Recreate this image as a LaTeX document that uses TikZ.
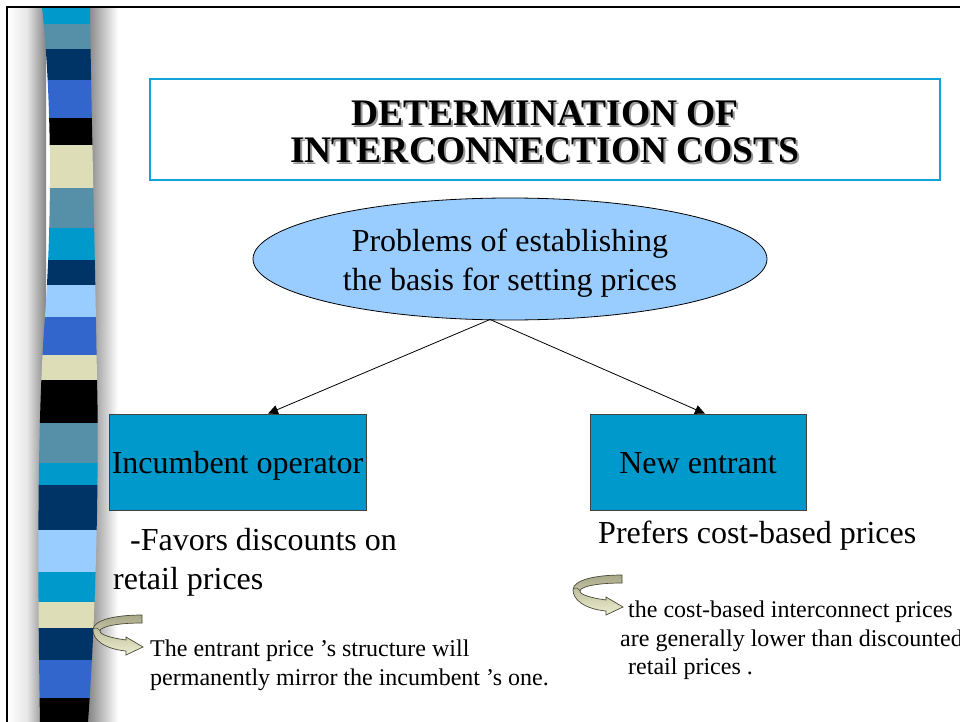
\documentclass[tikz,border=0pt]{standalone}
\usepackage{fontspec}
\setmainfont{Liberation Serif}
\usetikzlibrary{shapes.geometric,arrows.meta,calc}
\definecolor{cyanA}{HTML}{0099CC}
\definecolor{tealA}{HTML}{5590A8}
\definecolor{navyA}{HTML}{003366}
\definecolor{blueA}{HTML}{3366CC}
\definecolor{beigeA}{HTML}{DDDDB8}
\definecolor{lightA}{HTML}{99CCFF}
\definecolor{frameC}{HTML}{10A4D8}
\definecolor{shadeG}{HTML}{858585}
\definecolor{curlTop}{HTML}{A8A888}
\definecolor{curlBot}{HTML}{EEEED0}
\definecolor{curlLine}{HTML}{4A4A38}
\begin{document}
\begin{tikzpicture}[x=1pt,y=-1pt,
  box/.style={draw=black!75,line width=0.8pt,fill=cyanA,minimum width=257pt,minimum height=96pt,inner sep=0pt,text height=22pt,text depth=0pt,font=\fontsize{32}{38}\selectfont},
  bigtxt/.style={inner sep=0pt,font=\fontsize{32}{39}\selectfont,align=left},
  smalltxt/.style={inner sep=0pt,font=\fontsize{24}{28.5}\selectfont,align=left},
  titletxt/.style={inner sep=0pt,align=center,font=\bfseries\fontsize{37.5}{37}\selectfont},
  conn/.style={line width=0.8pt,-{Triangle[length=10pt,width=9pt]}},
  curlarrow/.pic={
    \shade[top color=curlTop,bottom color=curlBot,draw=curlLine,line width=0.7pt]
      (-1,-32) -- (-1,-24) .. controls (-28,-24) and (-43,-20) .. (-43,-16)
      .. controls (-43,-12) and (-31,-9) .. (-17,-7) -- (-17,-10) -- (0,0) -- (-17,8) -- (-17,4)
      .. controls (-38,2) and (-50,-7) .. (-50,-17)
      .. controls (-50,-27) and (-28,-32) .. (-1,-32) -- cycle;
    \draw[curlLine,line width=0.5pt] (-43,-16) .. controls (-45,-19) and (-47,-20) .. (-50,-18);
  }]
\useasboundingbox (0,0) rectangle (960,722);
\fill[white] (0,0) rectangle (960,722);
% left decorative bar
\shade[left color=white,right color=shadeG,middle color=white!80!shadeG] (8,7) rectangle (46,722);
\shade[left color=shadeG,right color=white] (88,7) rectangle (118,722);
\begin{scope}
\clip (42,7) .. controls (50,80) and (54,200) .. (44,330) .. controls (38,420) and (37,550) .. (40,722)
   -- (88,722) .. controls (97,600) and (99,450) .. (97,380) .. controls (95,250) and (91,100) .. (90,7) -- cycle;
\foreach \a/\b/\c in {7/24/cyanA,24/49/tealA,49/80/navyA,80/118/blueA,118/145/black,145/188/beigeA,
  188/228/tealA,228/260/cyanA,260/285/navyA,285/317/lightA,317/355/blueA,355/380/beigeA,
  380/423/black,423/463/tealA,463/485/cyanA,485/530/navyA,530/572/lightA,572/602/cyanA,
  602/628/beigeA,628/660/navyA,660/698/blueA,698/722/black}
  \fill[\c] (30,\a) rectangle (110,\b);
\end{scope}
% frame
\draw[line width=2.5pt] (7,740) -- (7,7) -- (975,7);
% title
\node[draw=frameC,line width=1.2pt,minimum width=790pt,minimum height=101pt,inner sep=0pt] (title) at (545,129.5) {};
\node[titletxt,text=black!40] (tshadow) at (547,133.5) {DETERMINATION OF\\INTERCONNECTION COSTS};
\node[titletxt] (ttext) at (545,131.5) {DETERMINATION OF\\INTERCONNECTION COSTS};
% ellipse
\node[ellipse,draw=black,line width=0.8pt,fill=lightA,minimum width=514pt,minimum height=122pt,inner sep=0pt] (ell) at (510,259) {};
\node[inner sep=0pt,align=center,font=\fontsize{32}{39}\selectfont] (elltxt) at (510,263) {Problems of establishing\\ the basis for setting prices};
% boxes
\node[box] (inc) at (237.5,462) {Incumbent operator};
\node[box,minimum width=216pt] (new) at (698,462) {New entrant};
\coordinate (src) at (490,319.5);
\coordinate (endL) at ($(inc.north)+(30.5,0)$);
\coordinate (endR) at ($(new.north)+(7,0)$);
\draw[conn] (src) -- (endL);
\draw[conn] (src) -- (endR);
% texts
\node[bigtxt,anchor=west] (fav) at (113,562) {\hspace*{17pt}-Favors discounts on\\retail prices};
\node[bigtxt,anchor=west] (pref) at (598,536) {Prefers cost-based prices};
\pic at (143,647) {curlarrow};
\pic at (623,607) {curlarrow};
\node[smalltxt,anchor=west] (entr) at (150,665.5) {The entrant price 's structure will\\permanently mirror the incumbent 's one.};
\node[smalltxt,anchor=west] (cost) at (620,640.5) {\hspace*{8pt}the cost-based interconnect prices\\are generally lower than discounted\\\hspace*{8pt}retail prices .};
\end{tikzpicture}
\end{document}
